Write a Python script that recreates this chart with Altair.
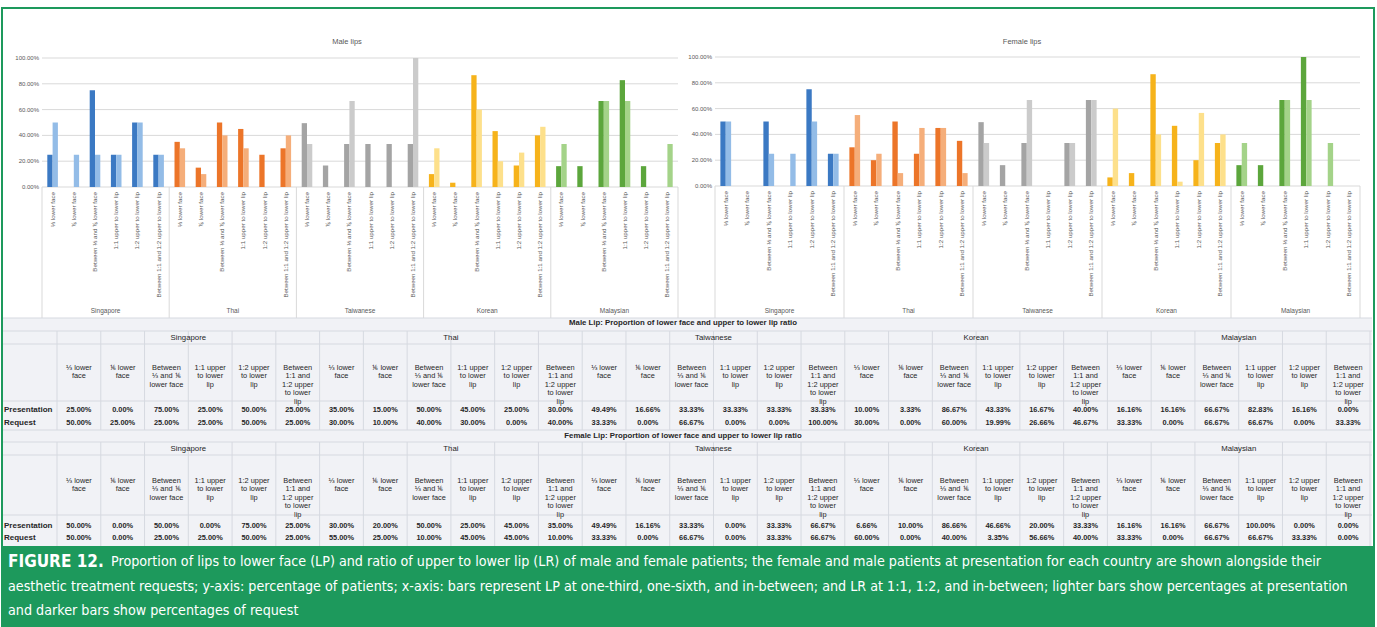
import altair as alt
import pandas as pd

# ---------------- data ----------------
countries = ["Singapore", "Thai", "Taiwanese", "Korean", "Malaysian"]
categories = [
    "⅓ lower face",
    "⅙ lower face",
    "Between ⅓ and ⅙ lower face",
    "1:1 upper to lower lip",
    "1:2 upper to lower lip",
    "Between 1:1 and 1:2 upper to lower lip",
]
table_headers = [
    "⅓ lower\nface",
    "⅙ lower\nface",
    "Between\n⅓ and ⅙\nlower face",
    "1:1 upper\nto lower\nlip",
    "1:2 upper\nto lower\nlip",
    "Between\n1:1 and\n1:2 upper\nto lower\nlip",
]
series = ["Presentation", "Request"]

# percentages, 6 per country in the order of `categories`
male_presentation = [25.00, 0.00, 75.00, 25.00, 50.00, 25.00,
                     35.00, 15.00, 50.00, 45.00, 25.00, 30.00,
                     49.49, 16.66, 33.33, 33.33, 33.33, 33.33,
                     10.00, 3.33, 86.67, 43.33, 16.67, 40.00,
                     16.16, 16.16, 66.67, 82.83, 16.16, 0.00]
male_request = [50.00, 25.00, 25.00, 25.00, 50.00, 25.00,
                30.00, 10.00, 40.00, 30.00, 0.00, 40.00,
                33.33, 0.00, 66.67, 0.00, 0.00, 100.00,
                30.00, 0.00, 60.00, 19.99, 26.66, 46.67,
                33.33, 0.00, 66.67, 66.67, 0.00, 33.33]
female_presentation = [50.00, 0.00, 50.00, 0.00, 75.00, 25.00,
                       30.00, 20.00, 50.00, 25.00, 45.00, 35.00,
                       49.49, 16.16, 33.33, 0.00, 33.33, 66.67,
                       6.66, 10.00, 86.66, 46.66, 20.00, 33.33,
                       16.16, 16.16, 66.67, 100.00, 0.00, 0.00]
female_request = [50.00, 0.00, 25.00, 25.00, 50.00, 25.00,
                  55.00, 25.00, 10.00, 45.00, 45.00, 10.00,
                  33.33, 0.00, 66.67, 0.00, 33.33, 66.67,
                  60.00, 0.00, 40.00, 3.35, 56.66, 40.00,
                  33.33, 0.00, 66.67, 66.67, 33.33, 0.00]

y_ticks = [0.0, 0.2, 0.4, 0.6, 0.8, 1.0]

dark_colors = ["#3b79c3", "#ec7529", "#a4a4a4", "#f6b31b", "#5ca63c"]
light_colors = ["#93bce7", "#f5ae7a", "#cbcbcb", "#fde08b", "#a4d389"]

caption_label = "FIGURE 12."
caption_lines = [
    "Proportion of lips to lower face (LP) and ratio of upper to lower lip (LR) of male and female patients; "
    "the female and male patients at presentation for each country are shown alongside their",
    "aesthetic treatment requests; y-axis: percentage of patients; x-axis: bars represent LP at one-third, "
    "one-sixth, and in-between; and LR at 1:1, 1:2, and in-between; lighter bars show percentages at presentation",
    "and darker bars show percentages of request",
]

# ---------------- styling / layout ----------------
W, H = 1377, 627
GREEN = "#1d995c"
AXIS_GREY = "#595959"
GRID = "#d9d9d9"
FONT = "Liberation Sans"
CAP_FONT = "DejaVu Sans Condensed, DejaVu Sans"
TEXT_DARK = "#262626"

color_keys = [f"{c}|{s}" for c in countries for s in series]
color_vals = [col for d, l in zip(dark_colors, light_colors) for col in (d, l)]


def one_row():
    return pd.DataFrame({"k": [0]})


def box(x0, x1, y0, y1, **mark):
    return alt.Chart(one_row()).mark_rect(**mark).encode(
        x=alt.value(x0), x2=alt.value(x1), y=alt.value(y0), y2=alt.value(y1)
    )


def bar_panel(title, title_x, pres, req, x0, x1, y_zero, y_top, y_bottom):
    ys = alt.Scale(domain=[0, 1], range=[y_zero, y_top], nice=False, zero=False)
    xs = alt.Scale(domain=list(range(30)), range=[x0, x1],
                   paddingInner=0.5, paddingOuter=0.25)
    gs = alt.Scale(domain=[0, 5], range=[x0, x1], nice=False, zero=False)

    ticks = pd.DataFrame({"t": y_ticks})
    grid = alt.Chart(ticks).mark_rule(color=GRID, strokeWidth=1).encode(
        y=alt.Y("t:Q", scale=ys, axis=None), x=alt.value(x0), x2=alt.value(x1)
    )
    tick_labels = alt.Chart(ticks).mark_text(
        align="right", baseline="middle", fontSize=6, font=FONT, color=AXIS_GREY
    ).encode(
        y=alt.Y("t:Q", scale=ys, axis=None), x=alt.value(x0 - 3),
        text=alt.Text("t:Q", format=".2%"),
    )

    rows = []
    for i in range(30):
        g, c = divmod(i, 6)
        for s, vals in zip(series, (pres, req)):
            rows.append({"slot": i, "series": s, "value": vals[i] / 100,
                         "ckey": f"{countries[g]}|{s}"})
    bars = alt.Chart(pd.DataFrame(rows)).mark_bar().encode(
        x=alt.X("slot:O", scale=xs, axis=None),
        xOffset=alt.XOffset("series:N", scale=alt.Scale(domain=series)),
        y=alt.Y("value:Q", scale=ys, axis=None),
        color=alt.Color("ckey:N", scale=alt.Scale(domain=color_keys, range=color_vals),
                        legend=None),
    )

    cats = pd.DataFrame({"slot": list(range(30)),
                         "label": [categories[i % 6] for i in range(30)]})
    cat_labels = alt.Chart(cats).mark_text(
        angle=270, align="right", baseline="middle", fontSize=6.2, font=FONT,
        color=AXIS_GREY
    ).encode(
        x=alt.X("slot:O", scale=xs, axis=None), y=alt.value(y_zero + 5),
        text="label:N",
    )

    grp = pd.DataFrame({"gpos": [g + 0.5 for g in range(5)], "country": countries})
    grp_labels = alt.Chart(grp).mark_text(
        baseline="middle", fontSize=6.5, font=FONT, color=AXIS_GREY
    ).encode(
        x=alt.X("gpos:Q", scale=gs, axis=None), y=alt.value(y_bottom - 7),
        text="country:N",
    )

    seps = pd.DataFrame({"b": list(range(6))})
    sep_rules = alt.Chart(seps).mark_rule(color=GRID, strokeWidth=1).encode(
        x=alt.X("b:Q", scale=gs, axis=None), y=alt.value(y_zero), y2=alt.value(y_bottom)
    )

    ttl = alt.Chart(pd.DataFrame({"t": [title]})).mark_text(
        fontSize=7.5, font=FONT, color=AXIS_GREY, baseline="middle"
    ).encode(x=alt.value(title_x), y=alt.value(42), text="t:N")

    return [grid, sep_rules, tick_labels, bars, cat_labels, grp_labels, ttl]


TX0, TX1 = 57, 1370          # data columns of the tables
LINE = "#d6d9e0"


def table_panel(title, pres, req, y_title, y_group, y_head, y_pres, y_req, h_lines, v_top, v_bottom):
    cs = alt.Scale(domain=[0, 30], range=[TX0, TX1], nice=False, zero=False)
    rs = alt.Scale(type="point", domain=series, range=[y_pres, y_req], padding=0)

    h_rules = [
        alt.Chart(one_row()).mark_rule(color=LINE, strokeWidth=1).encode(
            x=alt.value(3), x2=alt.value(1372), y=alt.value(yy)
        )
        for yy in h_lines
    ]
    v_rules = alt.Chart(pd.DataFrame({"b": list(range(31))})).mark_rule(
        color=LINE, strokeWidth=1
    ).encode(x=alt.X("b:Q", scale=cs, axis=None), y=alt.value(v_top), y2=alt.value(v_bottom))

    ttl = alt.Chart(pd.DataFrame({"t": [title]})).mark_text(
        fontSize=7.8, fontWeight="bold", font=FONT, color=TEXT_DARK, baseline="middle"
    ).encode(x=alt.value(683), y=alt.value(y_title), text="t:N")

    grp = pd.DataFrame({"gpos": [6 * g + 3 for g in range(5)], "country": countries})
    grp_labels = alt.Chart(grp).mark_text(
        fontSize=7.8, font=FONT, color=TEXT_DARK, baseline="middle"
    ).encode(x=alt.X("gpos:Q", scale=cs, axis=None), y=alt.value(y_group), text="country:N")

    heads = pd.DataFrame({"cpos": [i + 0.5 for i in range(30)],
                          "h": [table_headers[i % 6] for i in range(30)]})
    head_labels = alt.Chart(heads).mark_text(
        fontSize=7.4, font=FONT, color=TEXT_DARK, baseline="middle", lineBreak="\n",
        lineHeight=8.4
    ).encode(x=alt.X("cpos:Q", scale=cs, axis=None), y=alt.value(y_head), text="h:N")

    vals = []
    for s, arr in zip(series, (pres, req)):
        for i in range(30):
            vals.append({"cpos": i + 0.5, "row": s, "v": arr[i] / 100})
    val_labels = alt.Chart(pd.DataFrame(vals)).mark_text(
        fontSize=7.4, fontWeight="bold", font=FONT, color=TEXT_DARK, baseline="middle"
    ).encode(
        x=alt.X("cpos:Q", scale=cs, axis=None),
        y=alt.Y("row:O", scale=rs, axis=None),
        text=alt.Text("v:Q", format=".2%"),
    )
    row_labels = alt.Chart(pd.DataFrame({"row": series})).mark_text(
        fontSize=8, fontWeight="bold", font=FONT, color=TEXT_DARK, baseline="middle",
        align="left"
    ).encode(x=alt.value(4), y=alt.Y("row:O", scale=rs, axis=None), text="row:N")

    return h_rules + [v_rules, ttl, grp_labels, head_labels, val_labels, row_labels]


layers = []
# backgrounds
layers.append(box(0, W, 0, H, fill="white"))
layers.append(box(3, 1372, 318, 546, fill="#f1f2f6"))

layers += bar_panel("Male lips", 347, male_presentation, male_request,
                    42, 678, 187, 58, 318)
layers += bar_panel("Female lips", 1022, female_presentation, female_request,
                    715, 1360, 186, 57, 318)

layers += table_panel("Male Lip: Proportion of lower face and upper to lower lip ratio",
                      male_presentation, male_request,
                      323, 338, 368, 410, 423,
                      [318, 331, 344, 401, 430], 331, 430)
layers += table_panel("Female Lip: Proportion of lower face and upper to lower lip ratio",
                      female_presentation, female_request,
                      436, 449, 481, 526, 538,
                      [442, 455, 515], 442, 546)

# caption panel
layers.append(box(2, 1374, 546, H, fill=GREEN))
cap_y = [562, 587, 611]
layers.append(
    alt.Chart(pd.DataFrame({"t": [caption_label]})).mark_text(
        fontSize=17, fontWeight="bold", font=CAP_FONT, color="white",
        align="left", baseline="middle"
    ).encode(x=alt.value(8), y=alt.value(cap_y[0]), text="t:N")
)
for i, line in enumerate(caption_lines):
    layers.append(
        alt.Chart(pd.DataFrame({"t": [line]})).mark_text(
            fontSize=14.2, font=CAP_FONT, color="white", align="left", baseline="middle"
        ).encode(x=alt.value(111 if i == 0 else 8), y=alt.value(cap_y[i]), text="t:N")
    )

# outer frame
layers.append(box(2, 1374, 8, H, fill=None, stroke=GREEN, strokeWidth=2))

chart = alt.layer(*layers).resolve_scale(
    x="independent", y="independent", color="independent", xOffset="independent"
).properties(
    width=W, height=H, padding=0, autosize=alt.AutoSizeParams(type="none")
).configure_view(stroke=None)

chart.save("out.html", embed_options={"renderer": "svg", "actions": False})
